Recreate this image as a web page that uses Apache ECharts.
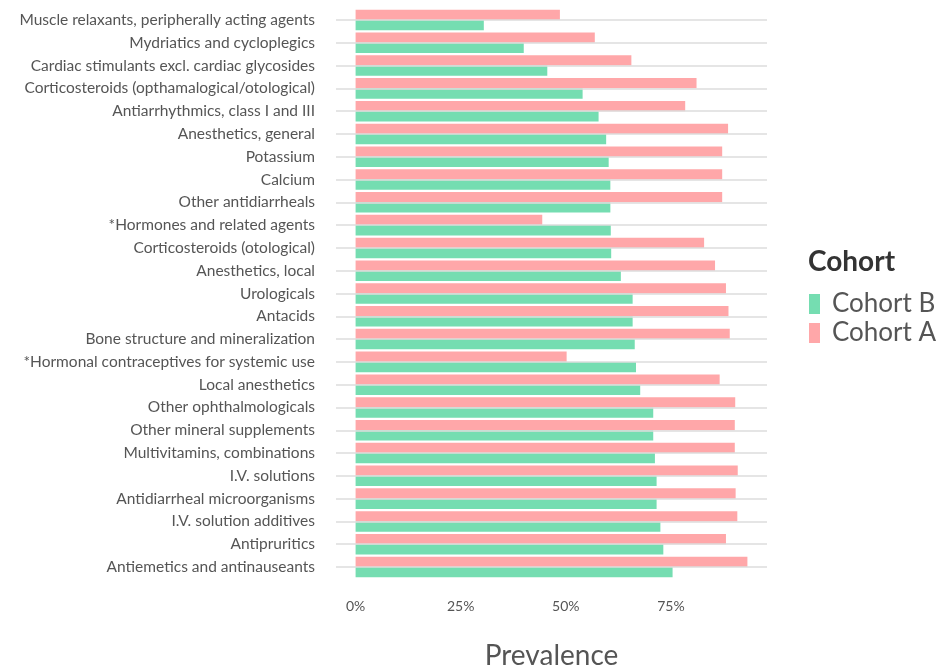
<!DOCTYPE html>
<html>
<head>
<meta charset="utf-8">
<script src="https://cdn.jsdelivr.net/npm/echarts@6/dist/echarts.min.js"></script>
<style>html,body{margin:0;padding:0;background:#fff}#c{width:942px;height:668px}</style>
</head>
<body>
<div id="c"></div>
<script>
const categories = [
  "Muscle relaxants, peripherally acting agents",
  "Mydriatics and cycloplegics",
  "Cardiac stimulants excl. cardiac glycosides",
  "Corticosteroids (opthamalogical/otological)",
  "Antiarrhythmics, class I and III",
  "Anesthetics, general",
  "Potassium",
  "Calcium",
  "Other antidiarrheals",
  "*Hormones and related agents",
  "Corticosteroids (otological)",
  "Anesthetics, local",
  "Urologicals",
  "Antacids",
  "Bone structure and mineralization",
  "*Hormonal contraceptives for systemic use",
  "Local anesthetics",
  "Other ophthalmologicals",
  "Other mineral supplements",
  "Multivitamins, combinations",
  "I.V. solutions",
  "Antidiarrheal microorganisms",
  "I.V. solution additives",
  "Antipruritics",
  "Antiemetics and antinauseants"
];
const cohortA = [48.6, 56.9, 65.6, 81.1, 78.4, 88.6, 87.2, 87.2, 87.2, 44.4, 82.9, 85.5, 88.1, 88.7, 89.0, 50.2, 86.6, 90.3, 90.2, 90.2, 90.9, 90.4, 90.8, 88.1, 93.2];
const cohortB = [30.5, 40.0, 45.6, 54.0, 57.8, 59.6, 60.2, 60.6, 60.6, 60.7, 60.8, 63.1, 65.9, 65.9, 66.4, 66.7, 67.7, 70.8, 70.8, 71.2, 71.6, 71.6, 72.5, 73.2, 75.4];
const xTicks = [0, 25, 50, 75];

const FONT = 'Lato, "Noto Sans", sans-serif';
const chart = echarts.init(document.getElementById('c'), null, {renderer: 'canvas'});
chart.setOption({
  animation: false,
  backgroundColor: '#fff',
  title: {
    text: 'Cohort', left: 803, top: 243,
    textStyle: {fontFamily: FONT, fontSize: 28, fontWeight: 'bold', color: '#333'}
  },
  legend: {
    data: ['Cohort B', 'Cohort A'],
    orient: 'vertical', left: 804, top: 286,
    itemWidth: 11, itemHeight: 20, itemGap: 3,
    icon: 'rect',
    textStyle: {fontFamily: FONT, fontSize: 26, lineHeight: 20, color: '#555', padding: [0, 0, 2, 7]}
  },
  grid: {left: 336, right: 175, top: 8.6, bottom: 89.6, containLabel: false, outerBoundsMode: 'none'},
  xAxis: {
    type: 'value', min: -4.66, max: 97.86,
    axisLine: {show: false}, axisTick: {show: false}, splitLine: {show: false},
    axisLabel: {
      customValues: xTicks, formatter: v => v + '%', margin: 21,
      fontFamily: FONT, fontSize: 14, color: '#555'
    },
    name: 'Prevalence', nameLocation: 'middle', nameGap: 64,
    nameTextStyle: {fontFamily: FONT, fontSize: 28, color: '#555'}
  },
  yAxis: {
    type: 'category', data: categories, inverse: true,
    axisLine: {show: false}, axisTick: {show: false}, splitLine: {show: false},
    axisLabel: {margin: 21, fontFamily: FONT, fontSize: 15.5, color: '#555'}
  },
  series: [
    {
      name: 'grid', type: 'line', data: [], z: 1, silent: true,
      markLine: {
        silent: true, symbol: ['none', 'none'], label: {show: false},
        lineStyle: {color: '#dcdcdc', width: 1.5, type: 'solid'},
        data: categories.map(c => ({yAxis: c}))
      }
    },
    {name: 'Cohort A', type: 'bar', data: cohortA, z: 2, itemStyle: {color: '#FFA7A9'}, barGap: '0%', barCategoryGap: '10%'},
    {name: 'Cohort B', type: 'bar', data: cohortB, z: 2, itemStyle: {color: '#75DDB1'}, barGap: '0%', barCategoryGap: '10%'}
  ]
});
</script>
</body>
</html>
